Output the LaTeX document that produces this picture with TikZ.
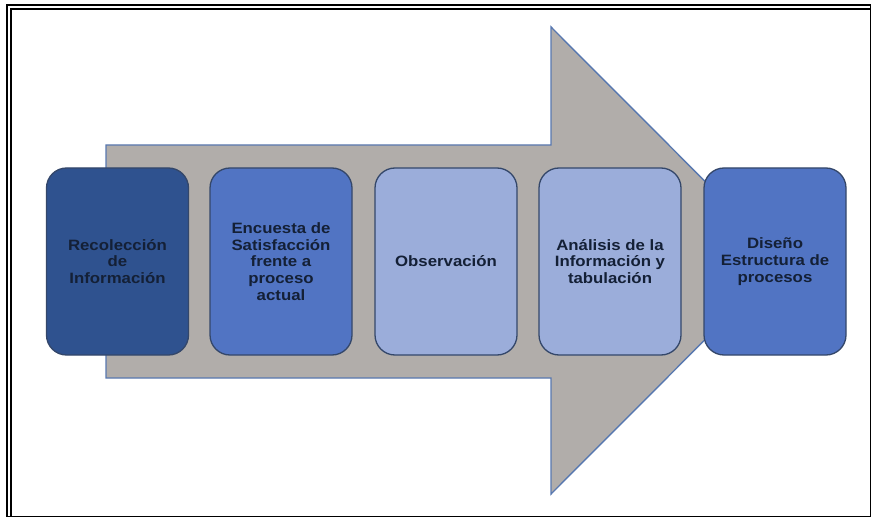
\documentclass[tikz,border=0pt]{standalone}
\usepackage{fontspec}
\newfontfamily\boxfont[FakeStretch=1.12]{Liberation Sans}
\definecolor{arrowgray}{HTML}{B1ADAA}
\definecolor{arrowline}{HTML}{5878B0}
\definecolor{boxline}{HTML}{34476A}
\definecolor{bdark}{HTML}{2F528F}
\definecolor{bmid}{HTML}{5174C3}
\definecolor{blight}{HTML}{9BADDA}
\definecolor{txt}{HTML}{142036}
\begin{document}
\begin{tikzpicture}[x=1pt,y=-1pt,
  stepbox/.style={draw=boxline, line width=1.3pt, rounded corners=20pt,
    minimum width=142pt, minimum height=187pt, inner sep=0pt,
    align=center, text=txt,
    font=\boxfont\bfseries\fontsize{15}{16.8}\selectfont},
  frameline/.style={draw=black, line width=1.1pt}]
\useasboundingbox (0,0) rectangle (872,518);
% frame
\draw[frameline] (870.5,5) -- (7,5) -- (7,516.5) -- (870.5,516.5) -- cycle;
\draw[frameline] (870.5,9) -- (11,9) -- (11,516.5);
% big arrow
\draw[fill=arrowgray, draw=arrowline, line width=1.4pt, line join=miter]
  (106,145) -- (551,145) -- (551,27) -- (784,260.5) -- (551,494) -- (551,378) -- (106,378) -- cycle;
% boxes
\node[stepbox, fill=bdark]  (b1) at (117.5,261.5) {Recolección\\de\\Información};
\node[stepbox, fill=bmid]   (b2) at (281,261.5)   {Encuesta de\\Satisfacción\\frente a\\proceso\\actual};
\node[stepbox, fill=blight] (b3) at (446,261.5)   {Observación};
\node[stepbox, fill=blight] (b4) at (610,261.5)   {Análisis de la\\Información y\\tabulación};
\node[stepbox, fill=bmid]   (b5) at (775,261.5)   {Diseño\\Estructura de\\procesos};
\end{tikzpicture}
\end{document}
